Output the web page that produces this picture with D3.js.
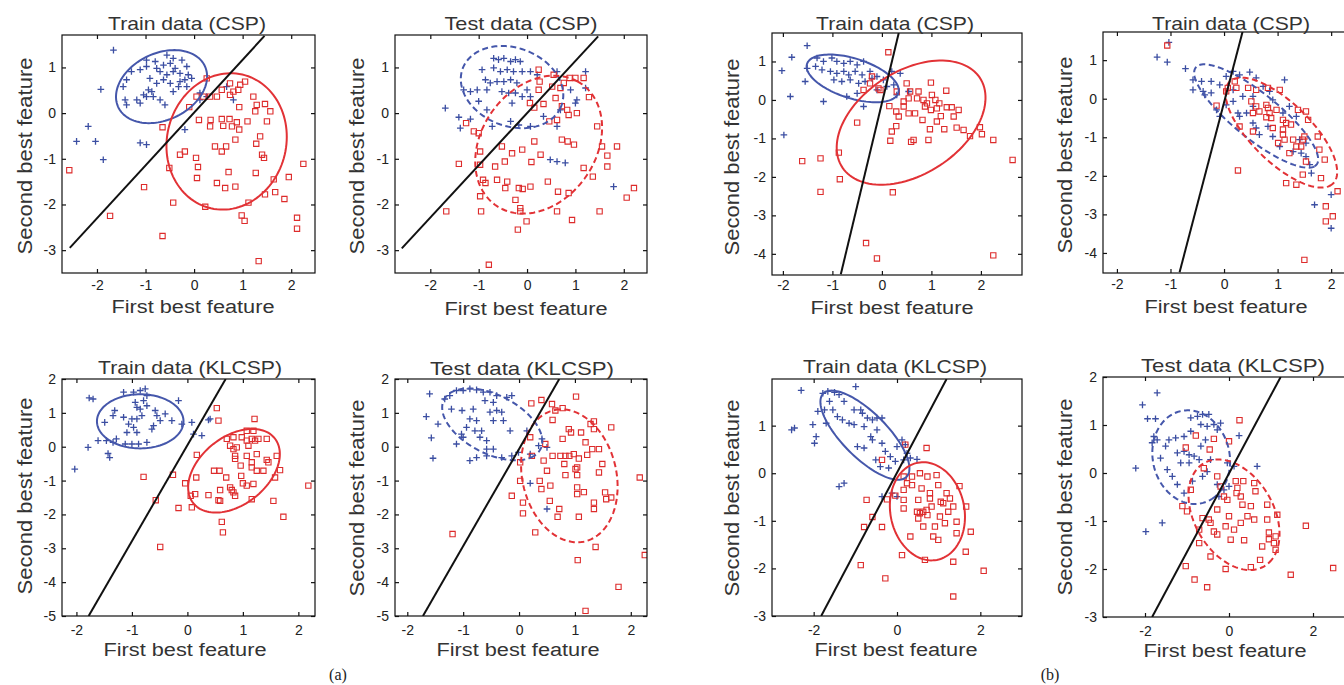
<!DOCTYPE html>
<html><head><meta charset="utf-8">
<script src="https://cdn.jsdelivr.net/npm/d3@7"></script>
<style>body{margin:0;background:#fff}</style>
</head><body>
<svg id="chart" width="1344" height="685"></svg>
<script>
// ---------------- DATA ----------------
const titles = ["Train data (CSP)","Test data (CSP)","Train data (CSP)","Train data (CSP)",
  "Train data (KLCSP)","Test data (KLCSP)","Train data (KLCSP)","Test data (KLCSP)"];
const xLabel = "First best feature";
const yLabel = "Second best feature";
const captions = ["(a)","(b)"];

const xTicksA = [-2,-1,0,1,2];
const xTicksB = [-2,0,2];
const yTicks1 = [-3,-2,-1,0,1];
const yTicks3 = [-4,-3,-2,-1,0,1];
const yTicks5 = [-5,-4,-3,-2,-1,0,1,2];
const yTicks7 = [-3,-2,-1,0,1];
const yTicks8 = [-3,-2,-1,0,1,2];

// Panel 1: Train data (CSP) (a)
const p1Blue = [[-1.66,1.38],[-1.92,0.52],[-2.18,-0.29],[-2.42,-0.62],[-2.03,-0.62],[-1.87,-1.02],[-1.11,-0.65],[-0.98,-0.69],[-0.19,-0.36],
 [-0.56,1.27],[-0.43,1.2],[-0.25,1.16],[-0.15,1.02],[-0.63,1.05],[-0.77,0.98],[-0.98,1.02],[-1.11,0.95],[-1.29,0.91],[-1.39,0.73],[-1.46,0.58],
 [-1.42,0.29],[-1.39,0.18],[-1.18,0.29],[-1.04,0.4],[-0.94,0.51],[-0.77,0.65],[-0.63,0.73],[-0.56,0.84],[-0.43,0.91],[-0.29,0.87],[-0.12,0.84],
 [-0.05,0.76],[-0.19,0.73],[-0.29,0.69],[-0.49,0.65],[-0.84,0.36],[-0.7,0.29],[-0.6,0.18],[-1.11,0.22],[-0.98,0.36],[-0.87,0.47],[-0.43,0.47],
 [-0.32,0.58],[0.12,0.44],[0.26,0.36],[0.81,0.29],[0.67,0.58],[-0.98,1.16],[-0.8,1.13],[-0.49,1.09],[-0.39,0.98],[-0.7,0.91],[-0.91,0.76],
 [-0.15,0.58],[0.12,0.29]];
const p1Red = [[-2.57,-1.25],[-1.73,-2.25],[-1.03,-1.62],[-0.65,-2.69],[-0.43,-1.96],[-0.51,-1.2],[-0.29,-0.91],[-0.19,-0.84],[-0.65,-0.31],
 [-0.1,0.13],[0.05,0.36],[0.19,0.36],[0.33,0.36],[0.47,0.36],[0.57,0.51],[0.74,0.4],[0.81,0.47],[0.91,0.51],[0.95,0.62],[1.05,0.69],[0.26,0.76],
 [0.74,0.65],[1.22,0.36],[1.29,0.18],[1.46,0.2],[1.57,0.04],[1.26,0.04],[0.93,0.13],[0.1,-0.15],[0.34,-0.15],[0.57,-0.13],[0.73,-0.13],[0.88,-0.2],
 [0.33,-0.29],[0.6,-0.28],[0.78,-0.29],[0.93,-0.36],[1.1,-0.18],[1.5,-0.18],[1.36,-0.51],[1.28,-0.67],[0.85,-0.58],[0.43,-0.73],[0.57,-0.84],
 [0.66,-0.73],[0.04,-0.98],[0.08,-1.18],[0.06,-1.42],[0.71,-1.29],[1.27,-1.31],[1.4,-0.91],[1.44,-0.98],[0.47,-1.53],[0.64,-1.64],[0.85,-1.61],
 [1.64,-1.45],[1.95,-1.4],[2.25,-1.11],[1.67,-1.73],[1.46,-1.78],[1.86,-1.88],[1.12,-1.96],[0.23,-2.05],[0.98,-2.24],[1.04,-2.36],[2.12,-2.29],
 [2.12,-2.53],[1.33,-3.24]];
const p1Ellipses = [{cls:"blue",cx:-0.67,cy:0.58,a:1.0,b:0.72,angle:30},{cls:"red",cx:0.67,cy:-0.62,a:1.5,b:1.23,angle:80}];
const p1Line = [[-2.56,-2.95],[1.45,1.69]];

// Panel 2: Test data (CSP) (a)
const p2Blue = [[-1.69,0.11],[-1.41,-0.09],[-1.38,-0.33],[-1.17,-0.13],[-1.31,0.51],[-1.17,0.47],[-1.03,0.51],[-0.93,0.95],[-0.86,0.73],[-0.83,0.51],
 [-0.76,0.66],[-0.69,1.2],[-0.59,1.17],[-0.48,1.2],[-0.34,1.13],[-0.24,1.17],[-0.14,1.13],[-0.69,0.99],[-0.55,0.91],[-0.41,0.95],[-0.28,0.91],
 [-0.1,0.91],[-0.62,0.69],[-0.48,0.69],[-0.34,0.73],[-0.21,0.66],[-0.52,0.47],[-0.38,0.44],[-0.24,0.44],[-0.1,0.36],[0.07,0.36],[0,0.51],
 [-0.31,0.22],[-0.83,0.07],[-1.0,0.26],[-0.72,-0.29],[-0.34,-0.18],[-0.17,-0.26],[0.07,-0.29],[0.62,-0.29],[0.34,-0.07],[0.69,0.07],[1.03,0.29],
 [1.0,0.22],[0.9,0.51],[0.62,0.91],[1.21,0.55],[1.21,0.91],[0.48,-1.02],[0.62,-1.06],[0.79,-1.09],[1.79,-1.61],[0.07,0.91],[0.21,0.84]];
const p2Red = [[-1.67,-2.15],[-1.41,-1.11],[-1.26,-0.22],[-1.1,-0.4],[-1.0,-0.44],[-0.97,-0.84],[-0.97,-1.13],[-0.91,-1.46],[-0.86,-1.53],[-0.97,-1.82],
 [-0.95,-2.15],[-0.66,-1.17],[-0.62,-1.46],[-0.52,-0.73],[-0.46,-1.06],[-0.41,-1.5],[-0.45,-1.64],[-0.79,-3.32],[-0.31,-0.88],[-0.1,-0.8],
 [-0.17,-1.64],[-0.09,-1.66],[-0.24,-1.9],[-0.14,-2.08],[-0.14,-2.15],[-0.01,-2.37],[-0.19,-2.55],[0.15,-0.62],[0.09,-1.07],[0.28,-0.91],
 [0.43,-1.5],[0.64,-1.72],[0.62,-2.15],[0.86,-1.75],[0.93,-2.34],[0.72,-0.58],[0.84,-0.62],[0.97,-0.69],[1.17,-1.2],[1.36,-1.39],[1.45,-0.29],
 [1.55,-0.73],[1.66,-0.93],[1.66,-1.17],[1.86,-0.73],[1.5,-2.15],[2.06,-1.85],[2.21,-1.64],[0.06,0.22],[0.15,0.12],[0.34,0.2],[0.24,0.51],
 [0.24,0.95],[0.55,0.84],[0.52,0.58],[0.59,0.33],[0.69,0.55],[0.76,0.66],[0.88,0.77],[1.0,0.77],[1.17,0.77],[1.28,0.35],[0.72,0.15],[0.83,0.07],
 [0.86,-0.04],[1.03,0.0],[0.46,-0.18],[0.62,-0.15],[0.26,0.69],[0.07,-1.61]];
const p2Ellipses = [{cls:"blue",cx:-0.31,cy:0.57,a:1.1,b:0.85,angle:-25},{cls:"red",cx:0.24,cy:-0.69,a:1.6,b:1.2,angle:60}];
const p2Line = [[-2.59,-2.96],[1.47,1.68]];

// Panel 3: Train data (CSP) (b, left)
const p3Blue = [[-1.51,1.41],[-1.82,1.11],[-2.02,0.76],[-1.85,0.09],[-1.55,0.48],[-1.51,0.82],[-1.34,0.87],[-1.18,-0.04],[-1.98,-0.91],[-1.31,1.09],
 [-1.18,1.0],[-1.01,1.09],[-0.91,1.0],[-0.77,0.95],[-0.64,1.0],[-0.5,0.91],[-0.37,1.0],[-1.21,0.78],[-1.04,0.74],[-0.91,0.69],[-0.77,0.74],
 [-0.67,0.65],[-0.54,0.74],[-0.4,0.65],[-0.97,0.52],[-0.81,0.48],[-0.64,0.52],[-0.47,0.43],[-0.34,0.48],[-0.2,0.56],[-0.24,0.74],[-0.1,0.61],
 [0.03,0.52],[0.2,0.74],[0.37,0.69],[0.1,0.35],[-0.37,-0.17],[-0.71,0.09],[-0.5,0.17],[-0.1,0.26],[0.24,0.39],[0.54,0.22],[0.3,0.13]];
const p3Red = [[0.13,1.24],[-0.2,0.61],[-0.24,0.43],[-0.37,0.26],[-0.07,0.3],[-0.03,0.26],[0.15,-0.16],[0.3,0.22],[0.5,0.43],[0.57,0.22],[0.74,0.22],
 [0.99,0.45],[1.3,0.24],[-0.5,-0.59],[-0.87,-1.37],[-0.85,-2.06],[-1.61,-1.59],[-1.24,-1.52],[-1.24,-2.39],[-0.32,-3.72],[-0.1,-4.12],[0.22,-2.4],
 [0.17,-1.06],[0.2,-0.82],[0.29,-0.68],[0.29,-0.3],[0.34,-0.43],[0.44,-0.04],[0.54,-0.35],[0.59,-1.09],[0.64,-1.04],[0.67,-0.35],[0.82,-0.52],
 [0.84,0.0],[0.87,-0.17],[0.94,-1.04],[0.97,-0.76],[0.99,-0.26],[1.08,0.0],[1.11,-0.22],[1.11,-0.56],[1.19,-0.42],[1.16,-0.09],[1.26,-0.76],
 [1.31,-0.19],[1.41,-0.19],[1.45,-0.43],[1.51,-0.72],[1.55,-0.26],[1.65,-0.78],[1.78,-0.94],[1.98,-0.71],[2.02,-0.89],[2.25,-1.04],[2.64,-1.56],
 [2.25,-4.04],[0.71,0.04],[1.01,0.13],[0.91,-0.09],[0.44,-0.17],[0.54,0.04]];
const p3Ellipses = [{cls:"blue",cx:-0.59,cy:0.56,a:1.0,b:0.5,angle:-25},{cls:"red",cx:0.59,cy:-0.59,a:1.85,b:1.2,angle:50}];
const p3Line = [[-0.83,-4.53],[0.34,1.74]];

// Panel 4: Train data (CSP) (b, right)
const p4Blue = [[-1.03,1.46],[-1.25,1.08],[-1.06,0.95],[-0.72,0.78],[-0.58,0.23],[-0.42,0.45],[-0.24,0.45],[-0.24,0.15],[-0.36,0.1],[-0.08,0.36],
 [0.04,0.58],[0.17,0.71],[0.29,0.62],[0.48,0.69],[0.6,0.54],[0.73,0.32],[0.85,0.19],[1.13,0.49],[0.17,-0.07],[-0.08,-0.46],[0.04,-0.16],
 [0.29,-0.46],[0.42,-0.37],[0.54,-0.63],[0.66,-0.93],[0.82,-0.72],[0.91,-0.98],[1.1,-0.37],[1.22,-0.2],[1.35,-0.46],[1.41,-1.06],[1.44,-1.41],
 [1.53,-1.5],[1.6,-1.71],[1.63,-1.93],[1.69,-2.75],[2.0,-2.49],[2.0,-3.36],[1.04,-1.24],[0.54,-0.2],[0.91,-0.03],[0.17,0.23],[0.35,0.06],
 [0.54,0.06],[-0.58,0.49],[-0.39,0.19],[-0.14,-0.29],[0.6,-0.76],[0.26,-0.37],[1.53,-1.15],[1.29,-1.37]];
const p4Red = [[-1.06,1.38],[0.26,-1.86],[0.2,0.45],[0.23,0.28],[0.04,0.19],[0.07,0.28],[-0.14,-0.18],[0.29,-0.72],[0.54,-0.85],[0.45,0.28],
 [0.6,0.23],[0.82,0.28],[1.04,0.23],[0.51,-0.07],[0.6,-0.2],[0.79,-0.16],[0.82,-0.24],[0.85,-0.37],[0.88,-0.5],[0.98,-0.29],[1.1,-0.55],
 [1.16,-0.63],[1.25,-0.67],[1.1,-0.8],[1.1,-0.93],[1.13,-1.06],[1.01,-1.15],[1.22,-1.41],[1.38,-0.29],[1.53,-0.33],[1.57,-0.55],[1.47,-1.06],
 [1.5,-0.98],[1.44,-1.24],[1.35,-1.24],[1.47,-1.97],[1.16,-2.19],[1.35,-2.23],[1.53,-1.63],[1.75,-0.98],[1.78,-1.32],[1.88,-1.58],[1.81,-2.06],
 [1.9,-2.79],[1.9,-3.18],[2.03,-3.05],[2.12,-2.4],[1.5,-4.18],[0.66,-0.33],[0.54,-0.37],[0.91,-0.76],[0.79,-0.48],[1.29,-1.06]];
const p4Ellipses = [{cls:"blue",cx:0.6,cy:-0.45,a:1.7,b:0.5,angle:-50},{cls:"red",cx:1.07,cy:-0.88,a:1.65,b:0.63,angle:-57}];
const p4Line = [[-0.83,-4.5],[0.345,1.73]];

// Panel 5: Train data (KLCSP) (a)
const p5Blue = [[-1.77,1.44],[-1.7,1.41],[-1.79,-0.02],[-2.03,-0.66],[-1.43,-0.2],[-1.61,0.18],[-1.46,0.18],[-1.34,0.13],[-1.49,0.72],[-1.34,0.92],
 [-1.31,1.07],[-1.15,1.61],[-0.97,1.61],[-0.85,1.66],[-0.76,1.71],[-0.73,1.51],[-0.94,1.31],[-0.91,1.16],[-0.85,1.11],[-1.15,0.87],[-1.0,0.82],
 [-0.91,0.82],[-0.82,0.92],[-1.06,0.67],[-0.97,0.57],[-0.91,0.42],[-1.09,0.42],[-1.28,0.23],[-1.12,0.08],[-1.0,0.08],[-0.88,0.08],[-0.73,0.13],
 [-0.61,0.62],[-0.58,1.07],[-0.55,0.92],[-0.64,0.52],[-0.49,0.77],[-0.4,0.97],[-0.28,0.77],[-0.16,1.36],[-0.1,0.67],[0.08,0.72],[0.11,0.37],
 [0.26,0.33],[0.38,0.79],[0.41,0.82],[-0.73,1.21],[-0.79,1.36],[-1.4,-0.32]];
const p5Red = [[0.53,1.14],[0.56,0.77],[1.21,0.82],[-0.79,-0.89],[-0.26,-0.83],[-0.04,-1.08],[-0.57,-1.58],[-0.16,-1.81],[0.08,-1.79],[0.06,-1.45],
 [0.14,-1.4],[0.16,-0.91],[0.17,-0.24],[-0.49,-2.96],[0.38,-1.43],[0.48,-0.71],[0.58,-0.71],[0.7,-0.91],[0.59,-1.28],[0.56,-1.58],[0.59,-1.6],
 [0.62,-2.22],[0.64,-2.53],[0.77,-1.2],[0.83,-1.35],[0.86,-1.45],[0.8,-1.28],[0.97,-0.86],[1.0,-1.08],[1.07,-1.15],[1.16,-1.55],[1.19,-1.1],
 [1.25,-0.71],[1.37,-0.71],[1.43,-0.39],[1.46,-0.46],[1.55,-1.6],[1.58,-0.91],[1.67,-0.69],[1.61,-0.27],[1.43,0.23],[1.73,-2.07],[2.18,-1.15],
 [0.71,0.23],[0.83,0.28],[0.77,0.03],[0.83,-0.07],[0.86,-0.27],[0.86,-0.36],[0.89,-0.02],[0.98,0.28],[1.07,0.18],[1.1,0.03],[1.16,0.23],
 [1.22,0.18],[1.19,0.47],[1.28,0.23],[1.07,0.47],[1.16,-0.46],[1.25,-0.22],[1.16,-0.61],[1.07,-0.27],[0.96,-0.56]];
const p5Ellipses = [{cls:"blue",cx:-0.85,cy:0.75,a:0.78,b:0.8,angle:0},{cls:"red",cx:0.84,cy:-0.71,a:1.3,b:0.72,angle:68}];
const p5Line = [[-1.78,-5],[0.69,2]];

// Panel 6: Test data (KLCSP) (a)
const p6Blue = [[-1.6,1.56],[-1.66,0.89],[-1.57,0.26],[-1.54,-0.34],[-1.45,0.67],[-1.33,1.41],[-1.24,1.51],[-1.12,1.66],[-1.0,1.66],[-0.88,1.71],
 [-0.76,1.68],[-0.64,1.61],[-0.52,1.61],[-0.4,1.51],[-0.22,1.46],[-0.13,1.51],[-1.21,1.11],[-1.02,1.07],[-0.88,0.82],[-0.76,0.77],[-0.94,0.57],
 [-0.79,0.47],[-0.67,0.47],[-0.7,0.28],[-0.58,0.18],[-0.58,-0.07],[-0.46,-0.07],[-0.52,1.02],[-0.4,1.07],[-0.31,1.02],[-0.28,0.77],[-0.46,0.77],
 [-0.61,1.36],[-0.46,1.31],[-0.82,1.11],[-1.03,0.37],[-1.0,0.28],[-1.12,0.08],[-0.88,-0.41],[-0.76,-0.32],[-0.58,-0.27],[-0.31,-0.32],
 [-0.13,-0.27],[-0.01,-0.17],[0.2,-0.22],[0.35,0.03],[0.41,0.23],[0.5,-0.02],[0.2,-1.08],[0.5,-1.84],[0.14,0.47],[-0.16,0.47]];
const p6Red = [[-1.19,-2.58],[-0.13,-1.45],[0.02,-0.46],[0.02,-1.01],[0.07,-1.65],[0.07,-1.97],[0.22,1.28],[0.4,1.38],[0.2,0.28],[0.23,-0.27],
 [0.29,-2.53],[0.37,-1.01],[0.4,-1.25],[0.44,-0.41],[0.47,0.08],[0.5,-0.71],[0.55,-1.6],[0.56,-1.15],[0.6,0.79],[0.65,1.07],[0.6,-0.27],
 [0.69,-2.07],[0.72,-1.84],[0.74,-0.27],[0.78,0.23],[0.81,-0.51],[0.83,-0.84],[0.83,-0.27],[0.89,0.52],[0.93,0.42],[0.98,-0.22],[1.02,1.48],
 [1.04,-0.61],[1.04,-0.84],[1.04,-1.2],[1.04,-1.4],[1.07,-0.35],[1.07,-2.07],[1.05,-3.35],[1.11,0.42],[1.16,-1.34],[1.19,0.13],[1.19,-4.85],
 [1.22,-0.24],[1.28,0.67],[1.31,-0.07],[1.34,0.52],[1.34,0.75],[1.34,-1.65],[1.34,-1.84],[1.37,-2.96],[1.43,-0.07],[1.43,-0.76],[1.49,-0.51],
 [1.54,-1.35],[1.56,-1.55],[1.65,-1.5],[1.65,0.57],[1.78,-4.14],[2.16,-0.91],[2.25,-3.2],[1.01,-0.66],[0.78,1.14],[0.59,1.26],[0.9,-0.27]];
const p6Ellipses = [{cls:"blue",cx:-0.48,cy:0.66,a:1.2,b:0.7,angle:-55},{cls:"red",cx:0.9,cy:-0.86,a:1.97,b:0.85,angle:95}];
const p6Line = [[-1.72,-5],[0.72,2]];

// Panel 7: Train data (KLCSP) (b)
const p7Blue = [[-2.3,1.74],[-2.53,0.91],[-2.46,0.95],[-2.02,1.02],[-1.98,0.63],[-1.94,0.77],[-1.78,1.68],[-1.66,1.72],[-1.5,1.7],[-1.39,1.65],
 [-1.9,1.3],[-1.74,1.33],[-1.62,1.51],[-1.54,1.33],[-1.7,1.05],[-1.43,1.19],[-1.31,1.12],[-1.15,1.05],[-1.03,1.02],[-0.99,1.82],[-0.87,1.33],
 [-0.83,1.26],[-0.71,1.16],[-0.59,1.12],[-0.48,1.16],[-0.36,1.16],[-0.79,0.98],[-0.95,0.56],[-0.79,0.53],[-0.63,0.77],[-0.59,0.7],[-0.48,0.91],
 [-0.36,0.63],[-0.28,0.46],[-0.16,0.35],[0.0,0.56],[0.12,0.7],[0.2,0.6],[0.24,0.42],[-0.04,0.25],[0.16,0.28],[0.32,0.32],[0.48,0.29],[-0.4,0.14],
 [-0.2,0.11],[-1.39,-0.28],[-1.27,-0.21],[-0.36,-0.49],[-0.12,-0.42],[0.0,-0.49],[-0.51,0.28],[-1.03,1.33],[-1.27,1.51]];
const p7Red = [[-0.87,-1.93],[-0.79,-1.13],[-0.73,-0.56],[-0.59,-0.92],[-0.36,-1.13],[-0.36,0.28],[-0.28,-2.21],[-0.24,-0.55],[-0.04,-0.47],
 [0.12,-1.72],[0.16,-0.07],[0.16,-0.56],[0.16,-0.74],[0.2,0.6],[0.24,-0.21],[0.32,-1.33],[0.36,-0.07],[0.36,-0.25],[0.48,-0.81],[0.51,-0.56],
 [0.51,-0.95],[0.55,0.0],[0.59,-0.32],[0.63,-1.12],[0.67,-1.82],[0.71,0.53],[0.73,-0.88],[0.73,-0.07],[0.79,-0.42],[0.79,-0.53],[0.83,-0.7],
 [0.87,-1.33],[0.91,-1.12],[0.95,-0.04],[0.99,-0.25],[0.99,-1.4],[1.03,-0.91],[1.05,-0.6],[1.11,-0.63],[1.15,-1.05],[1.19,-0.42],[1.27,-0.53],
 [1.23,-0.81],[1.35,-0.7],[1.35,-1.86],[1.35,-2.59],[1.43,-1.02],[1.43,-1.26],[1.5,-0.27],[1.66,-0.7],[1.65,-1.65],[1.77,-1.23],[2.08,-2.05],
 [0.55,-0.84],[0.63,-0.81],[0.71,-0.77],[0.16,-0.35]];
const p7Ellipses = [{cls:"blue",cx:-0.77,cy:0.8,a:1.33,b:0.5,angle:-40},{cls:"red",cx:0.73,cy:-0.8,a:1.05,b:0.88,angle:-70}];
const p7Line = [[-1.82,-3],[1.19,1.98]];

// Panel 8: Test data (KLCSP) (b)
const p8Blue = [[-2.22,0.1],[-2.06,1.42],[-1.71,1.67],[-1.94,1.13],[-1.75,1.13],[-1.79,0.76],[-1.71,0.69],[-1.83,0.63],[-1.98,-1.22],[-1.59,-1.04],
 [-1.63,0.31],[-1.51,0.56],[-1.43,0.69],[-1.27,0.73],[-1.07,0.76],[-0.91,1.15],[-0.75,1.18],[-0.63,1.22],[-0.48,1.22],[-0.67,1.01],[-0.52,0.97],
 [-0.36,1.01],[-0.28,0.9],[-0.2,1.04],[0.24,0.78],[-1.07,0.45],[-0.95,0.38],[-0.83,0.35],[-0.71,0.28],[-0.95,0.21],[-1.15,0.21],[-1.47,0.07],
 [-1.35,-0.07],[-1.23,-0.24],[-1.07,-0.42],[-0.87,-0.17],[-0.63,-0.07],[-0.52,0.03],[-0.44,0.28],[-0.28,-0.24],[-0.24,-0.49],[-0.12,-0.35],
 [-0.04,0.21],[0.12,0.14],[0.67,0.14],[0.0,-0.28],[-0.67,0.56],[-0.56,0.69],[-0.91,0.87],[-1.23,0.42]];
const p8Red = [[-1.03,0.53],[-0.79,0.78],[-0.46,0.49],[-0.36,0.71],[0.0,0.66],[0.25,1.1],[-0.6,0.1],[-0.28,-0.07],[-0.91,-0.35],[-1.11,-0.69],
 [-1.0,-0.8],[-0.71,-1.18],[-0.63,-0.94],[-0.48,-0.97],[-0.44,-1.04],[-0.36,-1.22],[-0.28,-1.28],[-0.71,-1.46],[-0.44,-1.74],[-1.03,-1.94],
 [-0.82,-2.22],[-0.52,-2.38],[-0.08,-2.0],[0.52,-1.96],[0.74,-1.81],[-0.2,-0.28],[-0.12,-0.49],[-0.04,-0.56],[0.0,-0.9],[-0.08,-1.11],[0.04,-1.39],
 [0.16,-0.17],[0.2,-0.31],[0.28,-0.49],[0.32,-0.66],[0.34,-0.17],[0.28,-1.04],[0.36,-1.4],[0.52,-0.69],[0.6,-0.21],[0.63,-0.38],[0.6,-0.97],
 [0.91,-0.66],[0.91,-0.97],[0.95,-1.24],[0.95,-1.38],[1.07,-1.46],[1.11,-1.6],[1.15,-0.87],[1.11,-1.32],[0.79,-1.53],[0.12,-1.18],[0.18,-0.42],
 [-0.28,-0.76],[1.47,-2.12],[1.83,-1.1],[2.48,-1.98],[0.44,-0.9]];
const p8Ellipses = [{cls:"blue",cx:-0.9,cy:0.33,a:1.0,b:0.9,angle:-60},{cls:"red",cx:0.12,cy:-0.87,a:1.3,b:0.9,angle:-50}];
const p8Line = [[-1.83,-3],[1.23,2]];

// ---------------- LAYOUT ----------------
const panels = [
 {blue:p1Blue, red:p1Red, ell:p1Ellipses, line:p1Line, dashed:false, box:[62,35,315,273], xd:[-2.72,2.49], yd:[-3.5,1.71], xt:xTicksA, yt:yTicks1, pad:7, titleX:187, titleY:30, xlX:193, xlY:313, ylX:32, ylY:156},
 {blue:p2Blue, red:p2Red, ell:p2Ellipses, line:p2Line, dashed:true,  box:[395,35,647,273], xd:[-2.73,2.48], yd:[-3.5,1.71], xt:xTicksA, yt:yTicks1, pad:7, titleX:521, titleY:30, xlX:526, xlY:315, ylX:364, ylY:156},
 {blue:p3Blue, red:p3Red, ell:p3Ellipses, line:p3Line, dashed:false, box:[772,33,1022,275], xd:[-2.22,2.83], yd:[-4.55,1.74], xt:xTicksA, yt:yTicks3, pad:5, titleX:895, titleY:30, xlX:892, xlY:314, ylX:739, ylY:157},
 {blue:p4Blue, red:p4Red, ell:p4Ellipses, line:p4Line, dashed:true,  box:[1103,32,1374,273], xd:[-2.26,2.8], yd:[-4.52,1.73], xt:xTicksA, yt:yTicks3, pad:6, titleX:1231, titleY:30, xlX:1226, xlY:313, ylX:1072, ylY:155},
 {blue:p5Blue, red:p5Red, ell:p5Ellipses, line:p5Line, dashed:false, box:[62,379,315,616], xd:[-2.26,2.3], yd:[-5,2], xt:xTicksA, yt:yTicks5, pad:9, titleX:190, titleY:374, xlX:185, xlY:656, ylX:32, ylY:496},
 {blue:p6Blue, red:p6Red, ell:p6Ellipses, line:p6Line, dashed:true,  box:[395,379,647,616], xd:[-2.22,2.29], yd:[-5,2], xt:xTicksA, yt:yTicks5, pad:9, titleX:522, titleY:375, xlX:518, xlY:656, ylX:364, ylY:498},
 {blue:p7Blue, red:p7Red, ell:p7Ellipses, line:p7Line, dashed:false, box:[772,379,1022,616], xd:[-3,3], yd:[-3,1.98], xt:xTicksB, yt:yTicks7, pad:9, titleX:895, titleY:373, xlX:896, xlY:656, ylX:739, ylY:498},
 {blue:p8Blue, red:p8Red, ell:p8Ellipses, line:p8Line, dashed:true,  box:[1103,377,1355,617], xd:[-3,3], yd:[-3,2], xt:xTicksB, yt:yTicks8, pad:9, titleX:1233, titleY:372, xlX:1225, xlY:657, ylX:1072, ylY:497}
];

const BLUE = "#3b4ea2", RED = "#dd2b2b";
const ELL_BLUE = "#4557ab", ELL_RED = "#e23236";
const FONT = "'Liberation Sans', Arial, sans-serif";

const svg = d3.select("#chart");
svg.append("rect").attr("width",1344).attr("height",685).attr("fill","#fff");

const plusType = { draw(ctx, size){ const r = Math.sqrt(size)/2; ctx.moveTo(-r,0); ctx.lineTo(r,0); ctx.moveTo(0,-r); ctx.lineTo(0,r);} };
const plusSym = d3.symbol(plusType, 44)();
const squareSym = d3.symbol(d3.symbolSquare, 28)();

panels.forEach((p, i) => {
  const [x0,y0,x1,y1] = p.box;
  const x = d3.scaleLinear().domain(p.xd).range([x0,x1]);
  const y = d3.scaleLinear().domain(p.yd).range([y1,y0]);
  const g = svg.append("g");
  const clipId = "clip"+i;
  g.append("clipPath").attr("id",clipId).append("rect")
    .attr("x",x0).attr("y",y0).attr("width",x1-x0).attr("height",y1-y0);
  const plot = g.append("g").attr("clip-path",`url(#${clipId})`);

  plot.selectAll(".bp").data(p.blue).join("path")
    .attr("d",plusSym).attr("transform",d=>`translate(${x(d[0])},${y(d[1])})`)
    .attr("fill","none").attr("stroke",BLUE).attr("stroke-width",1.3);
  plot.selectAll(".rp").data(p.red).join("path")
    .attr("d",squareSym).attr("transform",d=>`translate(${x(d[0])},${y(d[1])})`)
    .attr("fill","none").attr("stroke",RED).attr("stroke-width",1.1);

  const ts = d3.range(0, 361, 3).map(t => t*Math.PI/180);
  p.ell.forEach(e => {
    const th = e.angle*Math.PI/180;
    const pts = ts.map(t => [e.cx + e.a*Math.cos(th)*Math.cos(t) - e.b*Math.sin(th)*Math.sin(t),
                             e.cy + e.a*Math.sin(th)*Math.cos(t) + e.b*Math.cos(th)*Math.sin(t)]);
    plot.append("path").datum(pts)
      .attr("d", d3.line().x(d=>x(d[0])).y(d=>y(d[1])))
      .attr("fill","none").attr("stroke", e.cls==="blue"?ELL_BLUE:ELL_RED)
      .attr("stroke-width",2).attr("stroke-dasharray", p.dashed ? "6,3.5" : null);
  });

  plot.append("path").datum(p.line)
    .attr("d", d3.line().x(d=>x(d[0])).y(d=>y(d[1])))
    .attr("fill","none").attr("stroke","#111").attr("stroke-width",2);

  g.append("rect").attr("x",x0).attr("y",y0).attr("width",x1-x0).attr("height",y1-y0)
    .attr("fill","none").attr("stroke","#111").attr("stroke-width",1.2);

  const fmt = d => String(d);
  const styleAxis = s => { s.select(".domain").remove(); s.selectAll("line").attr("stroke","#111").attr("stroke-width",1.2);
    s.selectAll("text").attr("font-family",FONT).attr("font-size",14).attr("fill","#222"); };
  g.append("g").attr("transform",`translate(0,${y1})`)
    .call(d3.axisBottom(x).tickValues(p.xt).tickSize(-4).tickPadding(p.pad).tickFormat(fmt)).call(styleAxis);
  g.append("g").attr("transform",`translate(0,${y0})`)
    .call(d3.axisTop(x).tickValues(p.xt).tickSize(-4).tickFormat("")).call(styleAxis);
  g.append("g").attr("transform",`translate(${x0},0)`)
    .call(d3.axisLeft(y).tickValues(p.yt).tickSize(-4).tickPadding(6).tickFormat(fmt)).call(styleAxis);
  g.append("g").attr("transform",`translate(${x1},0)`)
    .call(d3.axisRight(y).tickValues(p.yt).tickSize(-4).tickFormat("")).call(styleAxis);

  const tw = titles[i].includes("KLCSP") ? 184 : (titles[i].startsWith("Test") ? 153 : 158);
  g.append("text").attr("x",p.titleX).attr("y",p.titleY).attr("text-anchor","middle")
    .attr("font-family",FONT).attr("font-size",19).attr("fill","#333")
    .attr("textLength",tw).attr("lengthAdjust","spacingAndGlyphs").text(titles[i]);
  g.append("text").attr("x",p.xlX).attr("y",p.xlY).attr("text-anchor","middle")
    .attr("font-family",FONT).attr("font-size",18).attr("fill","#333")
    .attr("textLength",163).attr("lengthAdjust","spacingAndGlyphs").text(xLabel);
  g.append("text").attr("transform",`translate(${p.ylX},${p.ylY}) rotate(-90)`).attr("text-anchor","middle")
    .attr("font-family",FONT).attr("font-size",20).attr("fill","#333")
    .attr("textLength",197).attr("lengthAdjust","spacingAndGlyphs").text(yLabel);
});

svg.append("text").attr("x",338).attr("y",680).attr("text-anchor","middle")
  .attr("font-family","'Liberation Serif', 'Times New Roman', serif").attr("font-size",16).attr("fill","#222").text(captions[0]);
svg.append("text").attr("x",1050).attr("y",680).attr("text-anchor","middle")
  .attr("font-family","'Liberation Serif', 'Times New Roman', serif").attr("font-size",16).attr("fill","#222").text(captions[1]);
</script>
</body></html>
